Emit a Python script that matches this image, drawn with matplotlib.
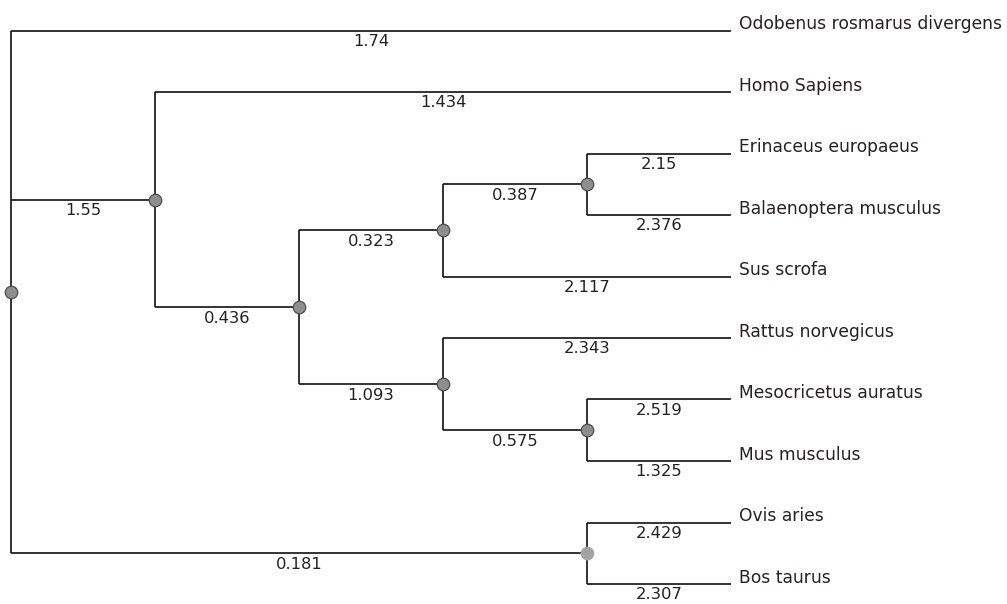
import matplotlib
matplotlib.use("Agg")
import matplotlib.pyplot as plt

# Leaves in drawing order (top to bottom) and their terminal branch lengths
leaf_names = [
    "Odobenus rosmarus divergens", "Homo Sapiens", "Erinaceus europaeus",
    "Balaenoptera musculus", "Sus scrofa", "Rattus norvegicus",
    "Mesocricetus auratus", "Mus musculus", "Ovis aries", "Bos taurus",
]
leaf_lengths = [1.74, 1.434, 2.15, 2.376, 2.117, 2.343, 2.519, 1.325, 2.429, 2.307]

# Internal clades: children and the length of the branch leading to the clade
clade_children = {
    "eri_bal": ["Erinaceus europaeus", "Balaenoptera musculus"],
    "eri_bal_sus": ["eri_bal", "Sus scrofa"],
    "meso_mus": ["Mesocricetus auratus", "Mus musculus"],
    "rodents": ["Rattus norvegicus", "meso_mus"],
    "core": ["eri_bal_sus", "rodents"],
    "homo_core": ["Homo Sapiens", "core"],
    "bovids": ["Ovis aries", "Bos taurus"],
    "root": ["Odobenus rosmarus divergens", "homo_core", "bovids"],
}
clade_lengths = {
    "eri_bal": 0.387, "eri_bal_sus": 0.323, "meso_mus": 0.575,
    "rodents": 1.093, "core": 0.436, "homo_core": 1.55, "bovids": 0.181,
}

branch_len = dict(zip(leaf_names, leaf_lengths))
branch_len.update(clade_lengths)


def height(node):
    if node not in clade_children:
        return 0
    return 1 + max(height(c) for c in clade_children[node])


max_h = height("root")
pos = {}


def layout(node):
    """Cladogram layout: leaves aligned right, x = depth from the tips."""
    if node not in clade_children:
        y = leaf_names.index(node)
    else:
        ys = [layout(c)[1] for c in clade_children[node]]
        y = (min(ys) + max(ys)) / 2
    pos[node] = (max_h - height(node), y)
    return pos[node]


layout("root")

fig = plt.figure(figsize=(10.07, 6.04), dpi=100)
ax = fig.add_axes([0, 0, 1, 1])
ax.set_xlim(-11 / 144, (1007 - 11) / 144)
ax.set_ylim((604 - 30.5) / 61.5, -30.5 / 61.5)
ax.axis("off")

line_kw = dict(color="#111111", lw=1.2, solid_capstyle="butt", zorder=1)
for parent, kids in clade_children.items():
    px, py = pos[parent]
    ys = [pos[k][1] for k in kids]
    ax.plot([px, px], [min(ys), max(ys)], **line_kw)
    for k in kids:
        kx, ky = pos[k]
        ax.plot([px, kx], [ky, ky], **line_kw)
        ax.annotate(f"{branch_len[k]:g}", ((px + kx) / 2, ky),
                    xytext=(0, -2.5), textcoords="offset points",
                    ha="center", va="top", fontsize=11.8, color="#222222")

for name in leaf_names:
    x, y = pos[name]
    ax.annotate(name, (x, y), xytext=(6, 1), textcoords="offset points",
                ha="left", va="baseline", fontsize=12.3, color="#2a1f24")

for node in clade_children:
    x, y = pos[node]
    light = node == "bovids"
    ax.plot(x, y, "o", ms=9, zorder=3,
            mfc="#a2a2a2" if light else "#8e8e8e",
            mec="#a8a8a8" if light else "#505050", mew=0.9)

fig.savefig("out.png", dpi=100)
